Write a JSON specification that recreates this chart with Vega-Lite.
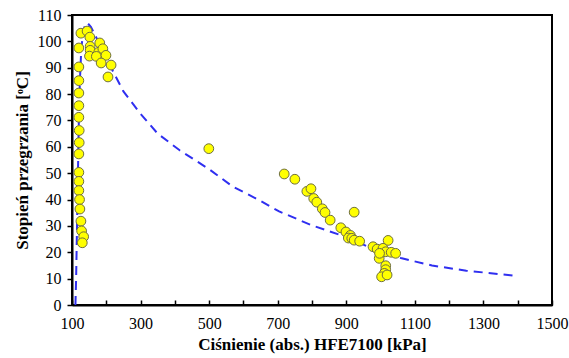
{
  "$schema": "https://vega.github.io/schema/vega-lite/v6.json",
  "width": 480,
  "height": 290,
  "autosize": {"type": "none"},
  "padding": {"left": 72, "top": 15, "right": 17, "bottom": 53},
  "background": "white",
  "config": {
    "view": {"stroke": "black", "strokeWidth": 2},
    "axis": {"grid": false, "domainColor": "black", "domainWidth": 2, "tickColor": "black", "tickWidth": 1.5,
      "labelFont": "Liberation Serif", "labelColor": "black", "titleFont": "Liberation Serif", "titleColor": "black", "titleFontWeight": "bold"},
    "font": "Liberation Serif"
  },
  "datasets": {
    "curve": [
      {"P": 110, "T": 0}, {"P": 112, "T": 10}, {"P": 114, "T": 25}, {"P": 116, "T": 40}, {"P": 118, "T": 55},
      {"P": 120, "T": 70}, {"P": 123, "T": 85}, {"P": 127, "T": 97}, {"P": 132, "T": 103}, {"P": 138, "T": 106.5},
      {"P": 145, "T": 107}, {"P": 155, "T": 105.5}, {"P": 165, "T": 103}, {"P": 180, "T": 99}, {"P": 200, "T": 94},
      {"P": 220, "T": 88.5}, {"P": 250, "T": 81}, {"P": 300, "T": 72.5}, {"P": 350, "T": 65}, {"P": 414, "T": 58.7},
      {"P": 500, "T": 51.5}, {"P": 568, "T": 45}, {"P": 650, "T": 39.5}, {"P": 704, "T": 35.5}, {"P": 800, "T": 30.2},
      {"P": 900, "T": 25.8}, {"P": 965, "T": 22}, {"P": 1062, "T": 17.7}, {"P": 1150, "T": 15}, {"P": 1250, "T": 13},
      {"P": 1372, "T": 11.4}, {"P": 1390, "T": 11.1}
    ],
    "points": [
      {"P": 120, "T": 97.5}, {"P": 120, "T": 90.3}, {"P": 120, "T": 85.1}, {"P": 120, "T": 80.4}, {"P": 120, "T": 75.6},
      {"P": 120, "T": 71.2}, {"P": 121, "T": 66.2}, {"P": 121, "T": 61.6}, {"P": 120, "T": 57.3}, {"P": 120, "T": 50.3},
      {"P": 120, "T": 46.9}, {"P": 120, "T": 43.4}, {"P": 122, "T": 40.0}, {"P": 123, "T": 36.4}, {"P": 126, "T": 31.8},
      {"P": 128, "T": 28.1}, {"P": 134, "T": 25.9}, {"P": 130, "T": 23.6},
      {"P": 126, "T": 103.1}, {"P": 144, "T": 103.9}, {"P": 152, "T": 101.6}, {"P": 153, "T": 98.1}, {"P": 153, "T": 96.6},
      {"P": 151, "T": 94.4}, {"P": 181, "T": 99.4}, {"P": 178, "T": 95.9}, {"P": 190, "T": 97.2}, {"P": 171, "T": 94.3},
      {"P": 199, "T": 94.7}, {"P": 185, "T": 91.8}, {"P": 214, "T": 91.0}, {"P": 205, "T": 86.5},
      {"P": 499, "T": 59.3},
      {"P": 719, "T": 49.7}, {"P": 750, "T": 47.7}, {"P": 785, "T": 43.1}, {"P": 797, "T": 44.1}, {"P": 805, "T": 40.4},
      {"P": 814, "T": 39.0}, {"P": 830, "T": 36.5}, {"P": 838, "T": 35.1}, {"P": 853, "T": 32.2}, {"P": 923, "T": 35.2},
      {"P": 884, "T": 29.3}, {"P": 899, "T": 27.7}, {"P": 912, "T": 26.4}, {"P": 906, "T": 25.4}, {"P": 916, "T": 25.3},
      {"P": 923, "T": 24.6}, {"P": 939, "T": 24.2},
      {"P": 1022, "T": 24.5}, {"P": 978, "T": 22.1}, {"P": 990, "T": 21.2}, {"P": 1007, "T": 21.5}, {"P": 996, "T": 17.7},
      {"P": 1015, "T": 20.2}, {"P": 1031, "T": 20.0}, {"P": 1044, "T": 19.6}, {"P": 997, "T": 19.6}, {"P": 1015, "T": 14.9},
      {"P": 1015, "T": 13.4}, {"P": 1011, "T": 12.0}, {"P": 1003, "T": 10.7}, {"P": 1019, "T": 11.4}
    ]
  },
  "encoding": {
    "x": {"field": "P", "type": "quantitative",
      "scale": {"domain": [100, 1500], "nice": false, "zero": false},
      "axis": {"title": "Ciśnienie (abs.) HFE7100 [kPa]", "titleFontSize": 17, "titlePadding": 5, "format": "d",
        "titleFont": "Liberation Serif", "labelFont": "Liberation Serif",
        "values": [100, 200, 300, 400, 500, 600, 700, 800, 900, 1000, 1100, 1200, 1300, 1400, 1500],
        "labelExpr": "datum.value % 200 == 100 ? datum.label : ''",
        "labelFontSize": 16, "tickSize": -5, "labelPadding": 15, "labelFlush": false, "labelOverlap": false}},
    "y": {"field": "T", "type": "quantitative",
      "scale": {"domain": [0, 110], "nice": false},
      "axis": {"title": "Stopień przegrzania  [ᵒC]", "titleFontSize": 17, "titlePadding": 6,
        "titleFont": "Liberation Serif", "labelFont": "Liberation Serif",
        "values": [0, 10, 20, 30, 40, 50, 60, 70, 80, 90, 100, 110],
        "labelFontSize": 16, "tickSize": 5, "labelPadding": 6, "labelFlush": false, "labelOverlap": false}}
  },
  "layer": [
    {"data": {"name": "curve"},
     "mark": {"type": "line", "color": "#2f2ff0", "strokeWidth": 2, "strokeDash": [9, 6]}},
    {"data": {"name": "points"},
     "mark": {"type": "circle", "size": 95, "fill": "#ffff00", "stroke": "#6e6e40", "strokeWidth": 1, "opacity": 1, "fillOpacity": 1}}
  ]
}
